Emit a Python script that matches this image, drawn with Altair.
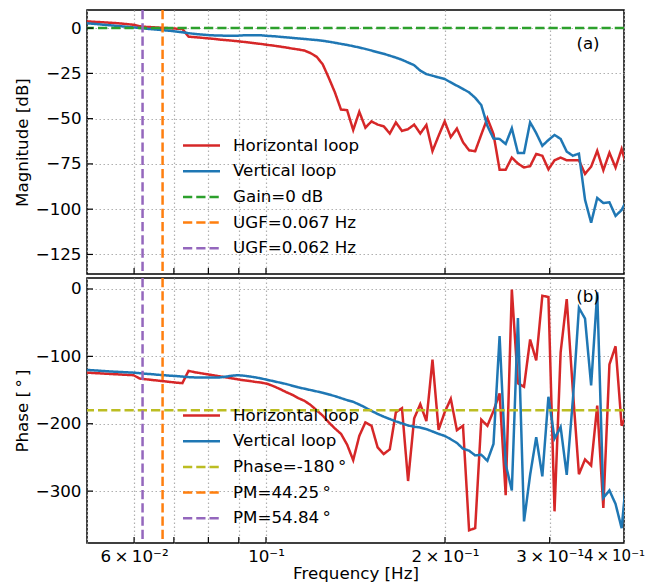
import altair as alt
import pandas as pd

freq = [0.04957, 0.05075, 0.05197, 0.05321, 0.05448, 0.05579, 0.05712, 0.05849, 0.05989, 0.06132,
        0.06279, 0.06429, 0.06583, 0.06740, 0.06901, 0.07066, 0.07235, 0.07408, 0.07585, 0.07766,
        0.07952, 0.08142, 0.08337, 0.08536, 0.08740, 0.08949, 0.09163, 0.09382, 0.09606, 0.09836,
        0.10070, 0.10311, 0.10557, 0.10810, 0.11068, 0.11333, 0.11604, 0.11881, 0.12165, 0.12456,
        0.12753, 0.13058, 0.13370, 0.13690, 0.14017, 0.14352, 0.14695, 0.15046, 0.15406, 0.15774,
        0.16150, 0.16536, 0.16931, 0.17336, 0.17750, 0.18175, 0.18609, 0.19054, 0.19509, 0.19976,
        0.20453, 0.20942, 0.21443, 0.21955, 0.22480, 0.23017, 0.23568, 0.24131, 0.24708, 0.25298,
        0.25907, 0.26526, 0.27160, 0.27809, 0.28474, 0.29155, 0.29852, 0.30566, 0.31297, 0.32045,
        0.32811, 0.33595, 0.34398, 0.35220, 0.36062, 0.36924, 0.37807, 0.38711, 0.39636, 0.40583]

mag_h = [3.8, 3.6, 3.4, 3.2, 3.0, 2.8, 2.5, 2.2, 1.8, 1.0,
         0.7, 0.5, 0.3, 0.1, -0.1, -0.3, -0.5, -4.7, -5.0, -5.3,
         -5.6, -5.9, -6.3, -6.6, -6.9, -7.2, -7.6, -8.0, -8.4, -8.8,
         -9.3, -9.7, -10.2, -10.7, -11.3, -11.8, -12.4, -13.8, -15.8, -20.0,
         -27.5, -35.5, -45.0, -45.3, -56.3, -46.2, -55.0, -51.5, -53.3, -54.2,
         -58.2, -52.1, -56.8, -55.8, -53.3, -58.2, -53.5, -67.9, -59.5, -51.5,
         -60.2, -55.5, -63.0, -67.5, -68.0, -58.8, -49.8, -58.5, -78.2, -78.2,
         -71.5, -74.8, -77.0, -76.2, -69.5, -70.5, -78.0, -73.0, -71.5, -73.0,
         -73.0, -73.0, -80.5, -76.5, -67.8, -78.5, -68.8, -77.0, -66.8, -78.5]

mag_v = [2.8, 2.5, 2.2, 1.9, 1.6, 1.3, 1.0, 0.7, 0.4, 0.1,
         -0.3, -0.6, -0.9, -1.2, -1.5, -1.9, -2.3, -2.8, -3.2, -3.5,
         -3.8, -4.0, -4.1, -4.2, -4.2, -4.2, -4.0, -3.9, -3.9, -4.0,
         -4.3, -4.5, -4.8, -5.1, -5.4, -5.7, -6.0, -6.3, -6.6, -7.0,
         -7.5, -8.1, -8.7, -9.3, -10.0, -10.7, -11.5, -12.4, -13.3, -14.2,
         -15.2, -16.3, -17.5, -19.0, -20.5, -23.5, -25.4, -26.3, -27.2, -28.1,
         -30.0, -31.8, -33.6, -35.5, -38.5, -42.5, -54.0, -61.0, -61.2, -64.0,
         -55.3, -69.0, -69.0, -52.0, -58.0, -65.0, -61.8, -59.0, -61.2, -68.2,
         -70.5, -69.3, -94.8, -107.5, -93.8, -96.6, -96.2, -103.7, -100.5, -93.8]

ph_h = [-124, -124.5, -125, -125.5, -126, -126.5, -127, -127.5, -128, -133,
        -134, -135, -136, -137, -138, -139, -139.7, -121.5, -123.5, -125,
        -126.5, -128, -129.5, -131, -132.5, -134, -135.5, -136.5, -138, -139,
        -141, -144.5, -148.5, -153, -157, -162, -166, -172, -180, -188,
        -198, -207, -215, -231, -254, -218, -198, -203, -235, -245,
        -238, -183, -177, -285, -192, -171, -196, -105, -209, -183,
        -163, -209.5, -203, -358, -355, -194, -203, -181, -155, -306,
        -1, -140, -145, -75, -106, -10, -12, -330, -94, -15,
        -150, -275, -253, -262, -173, -325, -112, -85, -203, -183]

ph_v = [-120, -120.5, -121, -121.7, -122.3, -122.8, -123.3, -123.7, -124.2, -125,
        -125.8, -126.5, -127.3, -128, -128.7, -129.3, -130, -130.8, -131.2, -131.4,
        -131.5, -131.5, -131.3, -130.3, -128.8, -128, -128.6, -129.8, -131.2, -133,
        -135, -137, -139, -141, -143.5, -146, -148, -150, -152, -154,
        -156.5, -159, -162, -165, -167.5, -171.5, -176, -181, -185.5, -189.5,
        -193, -196.5, -199.5, -202.5, -204.5, -205.6, -208, -211.5, -215, -218,
        -223, -228.5, -237, -240, -247, -246, -255, -230, -70, -260,
        -299, -43, -345, -276, -220, -278, -160, -222, -205, -276,
        -165, -28, -44, -143, -5, -310, -299, -319, -355, -260]

names_top = ["Horizontal loop", "Vertical loop", "Gain=0 dB", "UGF=0.067 Hz", "UGF=0.062 Hz"]
colors_top = ["#d62728", "#1f77b4", "#2ca02c", "#ff7f0e", "#9467bd"]
names_bot = ["Horizontal loop", "Vertical loop", "Phase=-180\u2009°", "PM=44.25\u2009°", "PM=54.84\u2009°"]
colors_bot = ["#d62728", "#1f77b4", "#bcbd22", "#ff7f0e", "#9467bd"]
dashes = [[1, 0], [1, 0], [9.25, 4], [9.25, 4], [9.25, 4]]
ugf_freqs = [0.067, 0.062]
gain_level = [0]
phase_level = [-180]

x_tick_vals = [0.05, 0.06, 0.07, 0.08, 0.09, 0.1, 0.2, 0.3, 0.4]
x_label_vals = [0.06, 0.1, 0.2, 0.3, 0.4]
x_label_txt = ["6\u2009×\u200910⁻²", "10⁻¹", "2\u2009×\u200910⁻¹", "3\u2009×\u200910⁻¹", "4\u2009×\u200910⁻¹"]
x_inner_ticks = [0.06, 0.07, 0.08, 0.09, 0.1, 0.2, 0.3]
mag_ticks = [-125, -100, -75, -50, -25, 0]
ph_ticks = [-300, -200, -100, 0]

W, H1, H2 = 537, 264, 265
FONT = "DejaVu Sans"
FS = 16.7

label_expr = ""
for v, t in zip(x_label_vals, x_label_txt):
    label_expr += f"abs(datum.value - {v}) < 1e-6 ? '{t}' : "
label_expr += "''"

xscale = alt.Scale(type="log", domain=[0.05, 0.4], nice=False)


def legend_def(ly):
    return alt.Legend(title=None, orient="none", legendX=104, legendY=ly,
                      symbolType="M-2,0H2", symbolSize=342, symbolStrokeWidth=2.5,
                      labelFontSize=FS, labelFont=FONT, labelColor="black",
                      labelOffset=21, rowPadding=5.7, padding=0, labelLimit=300)


def panel(vals_h, vals_v, names, colors, level, ytitle, ydomain, yticks, H, tag, tag_y, bottom, ly):
    rows = []
    for f, a, b in zip(freq, vals_h, vals_v):
        rows.append({"f": f, "val": a, "series": names[0]})
        rows.append({"f": f, "val": b, "series": names[1]})
    df = pd.DataFrame(rows)
    df_h = pd.DataFrame({"val": level, "series": [names[2]]})
    df_v = pd.DataFrame({"f": ugf_freqs, "series": [names[3], names[4]]})

    color = alt.Color("series:N", scale=alt.Scale(domain=names, range=colors), legend=legend_def(ly))
    dash = alt.StrokeDash("series:N", scale=alt.Scale(domain=names, range=dashes), legend=legend_def(ly))

    if bottom:
        xaxis = alt.Axis(values=x_tick_vals, labelExpr=label_expr, grid=True, ticks=False,
                         domain=False, title="Frequency [Hz]", labelOverlap=False,
                         labelFlush=False, labelPadding=5, titlePadding=1,
                         labelOffset={"condition": {"test": "datum.value > 0.35", "value": -10}, "value": 0},
                         labelFontSize={"condition": {"test": "datum.value > 0.35", "value": 15}, "value": FS})
    else:
        xaxis = alt.Axis(values=x_tick_vals, grid=True, ticks=False, labels=False,
                         domain=False, title=None)
    yaxis = alt.Axis(values=yticks, grid=True, ticks=False, domain=False, title=ytitle,
                     labelPadding=6, titlePadding=4)
    yscale = alt.Scale(domain=ydomain, nice=False, zero=False)

    lines = alt.Chart(df).mark_line(strokeWidth=2.5, clip=True).encode(
        x=alt.X("f:Q", scale=xscale, axis=xaxis),
        y=alt.Y("val:Q", scale=yscale, axis=yaxis),
        color=color, strokeDash=dash, detail="series:N")
    hline = alt.Chart(df_h).mark_rule(strokeWidth=2.5).encode(
        y=alt.Y("val:Q"), color=color, strokeDash=dash)
    vlines = alt.Chart(df_v).mark_rule(strokeWidth=2.5).encode(
        x=alt.X("f:Q"), color=color, strokeDash=dash)
    xt = alt.Chart(pd.DataFrame({"t": x_inner_ticks})).mark_rule(color="black", strokeWidth=1.2).encode(
        x=alt.X("t:Q"), y=alt.value(H), y2=alt.value(H - 6))
    yt = alt.Chart(pd.DataFrame({"v": yticks})).mark_rule(color="black", strokeWidth=1.2).encode(
        y=alt.Y("v:Q"), x=alt.value(0), x2=alt.value(6))
    txt = alt.Chart(pd.DataFrame({"t": [tag]})).mark_text(
        fontSize=FS, font=FONT, align="center", baseline="middle", color="black").encode(
        x=alt.value(501), y=alt.value(tag_y), text="t:N")
    return alt.layer(lines, hline, vlines, xt, yt, txt).properties(width=W, height=H)


top = panel(mag_h, mag_v, names_top, colors_top, gain_level, "Magnitude [dB]",
            [-135.8, 10], mag_ticks, H1, "(a)", 33.5, False, 125)
bot = panel(ph_h, ph_v, names_bot, colors_bot, phase_level, "Phase [\u2009°\u2009]",
            [-377, 16.3], ph_ticks, H2, "(b)", 18.5, True, 127)

chart = alt.vconcat(top, bot, spacing=0).resolve_scale(
    color="independent", strokeDash="independent", y="independent"
).properties(
    padding={"left": 5, "top": 0, "right": -1, "bottom": 0}
).configure_view(
    stroke="black", strokeWidth=1.5
).configure_axis(
    labelFont=FONT, titleFont=FONT, labelFontSize=FS, titleFontSize=FS,
    titleFontWeight="normal", labelColor="black", titleColor="black",
    gridColor="#b0b0b0", gridDash=[1.5, 2.5], gridWidth=1.2, gridOpacity=1
)

chart.save("out.html", embed_options={"renderer": "svg", "actions": False})
